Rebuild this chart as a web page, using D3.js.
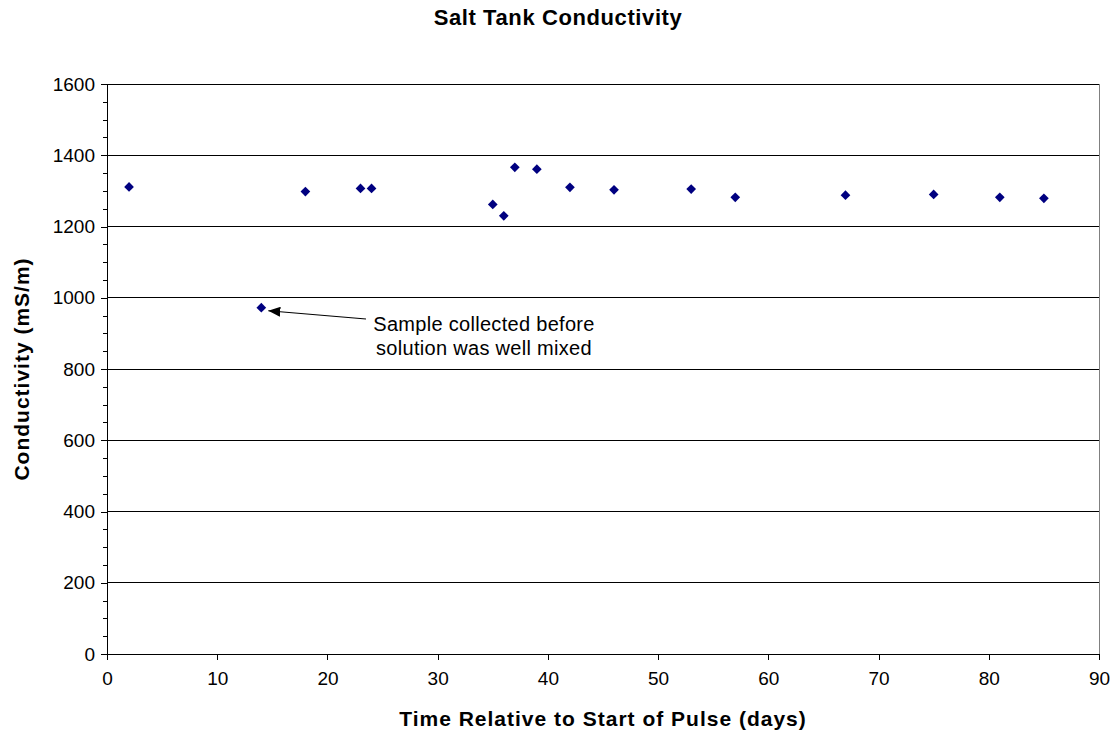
<!DOCTYPE html>
<html>
<head>
<meta charset="utf-8">
<script src="https://cdn.jsdelivr.net/npm/d3@7"></script>
<style>
  html, body { margin: 0; padding: 0; background: #fff; }
  svg { display: block; }
  text { font-family: Arial, "Liberation Sans", sans-serif; fill: #000; }
</style>
</head>
<body>
<svg id="chart" width="1118" height="738"></svg>
<script>
// Sampling day relative to the start of the pulse
const days = [2, 14, 18, 23, 24, 35, 36, 37, 39, 42, 46, 53, 57, 67, 75, 81, 85];
// Measured conductivity of the salt tank (mS/m)
const conductivity = [1311, 972, 1298, 1307, 1307, 1262, 1230, 1366, 1361, 1310, 1303, 1305, 1282, 1288, 1290, 1282, 1279];

const xTicks = [0, 10, 20, 30, 40, 50, 60, 70, 80, 90];
const yTicks = [0, 200, 400, 600, 800, 1000, 1200, 1400, 1600];
const yMinorTicks = d3.range(0, 1601, 50);

const titleText = "Salt Tank Conductivity";
const xTitle = "Time Relative to Start of Pulse (days)";
const yTitle = "Conductivity (mS/m)";
const noteLines = ["Sample collected before", "solution was well mixed"];
const noteIndex = 1; // the early, poorly mixed sample

const margin = { left: 107, right: 19, top: 84, bottom: 84 };
const W = 1118, H = 738;
const svg = d3.select("#chart");

const x = d3.scaleLinear().domain([0, 90]).range([margin.left, W - margin.right]);
const y = d3.scaleLinear().domain([0, 1600]).range([H - margin.bottom, margin.top]);

// Horizontal gridlines
svg.append("g")
  .selectAll("line")
  .data(yTicks.filter(d => d > 0))
  .join("line")
  .attr("x1", x(0)).attr("x2", x(90))
  .attr("y1", d => y(d)).attr("y2", d => y(d))
  .attr("stroke", "#000").attr("stroke-width", 1)
  .attr("shape-rendering", "crispEdges");

// Right border of the plot area
svg.append("line")
  .attr("x1", x(90)).attr("x2", x(90))
  .attr("y1", y(1600)).attr("y2", y(0))
  .attr("stroke", "#808080")
  .attr("shape-rendering", "crispEdges");

// Y axis with minor ticks
svg.append("g")
  .attr("transform", `translate(${x(0)},0)`)
  .call(d3.axisLeft(y).tickValues(yMinorTicks.filter(d => d % 200 !== 0)).tickSize(4).tickFormat(""))
  .call(g => g.select(".domain").remove())
  .call(g => g.selectAll("line").attr("shape-rendering", "crispEdges"));

svg.append("g")
  .attr("transform", `translate(${x(0)},0)`)
  .call(d3.axisLeft(y).tickValues(yTicks).tickSize(6).tickSizeOuter(0).tickPadding(6).tickFormat(d3.format("d")))
  .call(g => g.select(".domain").attr("stroke", "#000"))
  .call(g => g.selectAll("line, path").attr("shape-rendering", "crispEdges"))
  .call(g => g.selectAll("text").attr("font-size", 19).attr("font-family", "Arial, 'Liberation Sans', sans-serif"));

// X axis
svg.append("g")
  .attr("transform", `translate(0,${y(0)})`)
  .call(d3.axisBottom(x).tickValues(xTicks).tickSize(6).tickSizeOuter(0).tickPadding(12).tickFormat(d3.format("d")))
  .call(g => g.select(".domain").attr("stroke", "#000"))
  .call(g => g.selectAll("line, path").attr("shape-rendering", "crispEdges"))
  .call(g => g.selectAll("text").attr("font-size", 19).attr("font-family", "Arial, 'Liberation Sans', sans-serif"));

// Data points as diamonds
const diamond = d3.symbol().type(d3.symbolDiamond2).size(60);
svg.append("g")
  .selectAll("path")
  .data(days.map((d, i) => ({ day: d, value: conductivity[i] })))
  .join("path")
  .attr("transform", d => `translate(${x(d.day)},${y(d.value)})`)
  .attr("d", diamond)
  .attr("fill", "#000080");

// Annotation with arrow pointing at the poorly mixed sample
svg.append("defs").append("marker")
  .attr("id", "arrowhead")
  .attr("viewBox", "0 0 12 10")
  .attr("refX", 12).attr("refY", 5)
  .attr("markerWidth", 12).attr("markerHeight", 10)
  .attr("markerUnits", "userSpaceOnUse")
  .attr("orient", "auto")
  .append("path")
  .attr("d", "M0,0 L12,5 L0,10 Z")
  .attr("fill", "#000");

const px = x(days[noteIndex]), py = y(conductivity[noteIndex]);
svg.append("line")
  .attr("x1", 366).attr("y1", 319)
  .attr("x2", px + 7).attr("y2", py + 3)
  .attr("stroke", "#000").attr("stroke-width", 1.2)
  .attr("marker-end", "url(#arrowhead)");

svg.append("g")
  .selectAll("text")
  .data(noteLines)
  .join("text")
  .attr("x", 484)
  .attr("y", (d, i) => 331 + i * 24)
  .attr("text-anchor", "middle")
  .attr("font-size", 20)
  .attr("letter-spacing", 0.3)
  .text(d => d);

// Titles
svg.append("text")
  .attr("x", 558).attr("y", 25)
  .attr("text-anchor", "middle")
  .attr("font-size", 22).attr("font-weight", "bold")
  .attr("letter-spacing", 0.6)
  .text(titleText);

svg.append("text")
  .attr("x", (x(0) + x(90)) / 2).attr("y", 726)
  .attr("text-anchor", "middle")
  .attr("font-size", 21).attr("font-weight", "bold")
  .attr("letter-spacing", 1)
  .text(xTitle);

svg.append("text")
  .attr("transform", `translate(29,${(y(0) + y(1600)) / 2}) rotate(-90)`)
  .attr("text-anchor", "middle")
  .attr("font-size", 21).attr("font-weight", "bold")
  .attr("letter-spacing", 1)
  .text(yTitle);
</script>
</body>
</html>
